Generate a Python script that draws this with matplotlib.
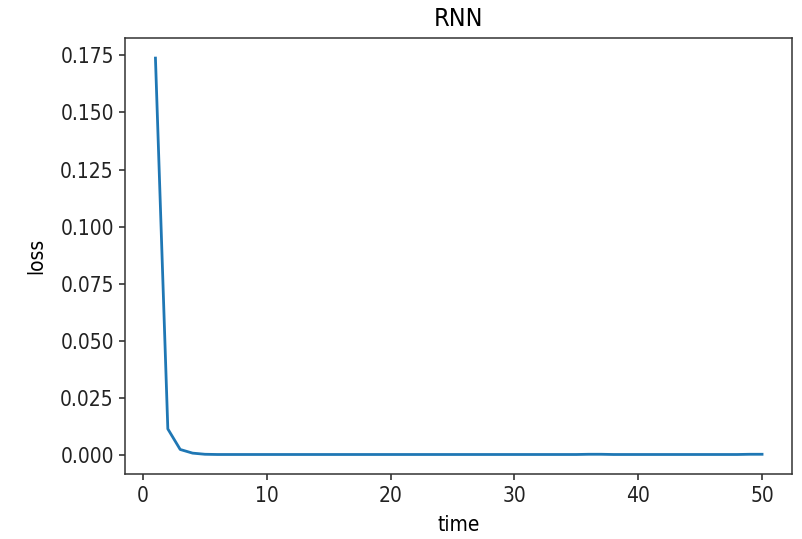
import numpy as np
import matplotlib.pyplot as plt

epochs = np.arange(1, 51)
loss = [0.1738, 0.0115, 0.0025, 0.0009, 0.0004, 0.0003, 0.0003, 0.0003, 0.0003, 0.0003,
        0.0003, 0.0003, 0.0003, 0.0003, 0.0003, 0.0003, 0.0003, 0.0003, 0.0003, 0.0003,
        0.0003, 0.0003, 0.0003, 0.0003, 0.0003, 0.0003, 0.0003, 0.0003, 0.0003, 0.0003,
        0.0003, 0.0003, 0.0003, 0.0003, 0.0003, 0.0004, 0.0004, 0.0003, 0.0003, 0.0003,
        0.0003, 0.0003, 0.0003, 0.0003, 0.0003, 0.0003, 0.0003, 0.0003, 0.0004, 0.0004]

plt.rcParams['font.size'] = 15
plt.rcParams['font.stretch'] = 'condensed'
fig = plt.figure(figsize=(8.02, 5.39), dpi=100)
ax = fig.add_axes([0.156, 0.12, 0.832, 0.809])
ax.plot(epochs, loss, linewidth=2.0, color="tab:blue")
ax.set_xlabel("time", labelpad=7)
ax.set_ylabel("loss", labelpad=10)
ax.set_title("RNN", pad=9)
ax.tick_params(length=4.6, width=1.1, colors="#222222")
for s in ax.spines.values():
	s.set_linewidth(1.1)
	s.set_color("#333333")
fig.savefig("out.png", dpi=100)
